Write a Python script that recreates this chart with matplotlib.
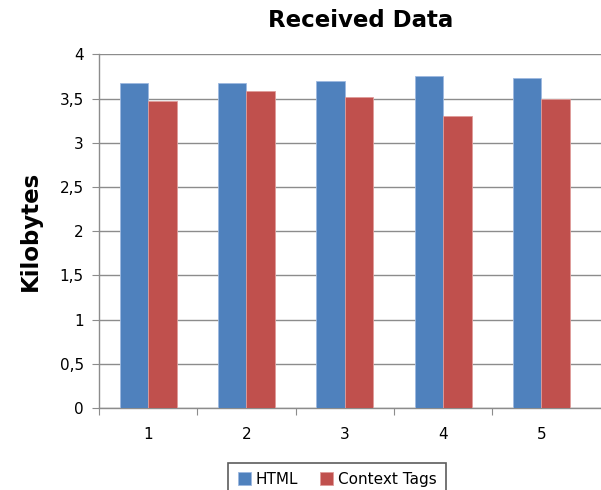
import numpy as np
import matplotlib.pyplot as plt
from matplotlib.ticker import FuncFormatter

# data (kilobytes received per run)
runs = ["1", "2", "3", "4", "5"]
html_kb = [3.68, 3.68, 3.70, 3.75, 3.73]
context_kb = [3.47, 3.59, 3.52, 3.30, 3.50]

blue = "#4F81BD"
red = "#C0504D"
grid_col = "#8C8C8C"

fig = plt.figure(figsize=(6.01, 4.90), dpi=100)
ax = fig.add_axes([0.1647, 0.1673, 0.8353, 0.7219])

x = np.arange(len(runs))
w = 0.29
ax.bar(x - w / 2, html_kb, w, color=blue, edgecolor="#9DB9E0", linewidth=0.6,
       label="HTML", zorder=3)
ax.bar(x + w / 2, context_kb, w, color=red, edgecolor="#E09C9A", linewidth=0.6,
       label="Context Tags", zorder=3)

ax.set_ylim(0, 4)
ax.set_xlim(-0.5, 4.607)
ax.set_yticks(np.arange(0, 4.01, 0.5))
ax.yaxis.set_major_formatter(FuncFormatter(lambda v, _: f"{v:g}".replace(".", ",")))
ax.grid(axis="y", color=grid_col, lw=1, zorder=0)

# category boundaries as ticks, labels centred between them
ax.set_xticks(np.arange(-0.5, 4.0, 1.0))
ax.set_xticklabels([])
ax.set_xticks(x, minor=True)
ax.set_xticklabels(runs, minor=True)
ax.tick_params(axis="x", which="major", length=5, color=grid_col, direction="out")
ax.tick_params(axis="x", which="minor", length=0, pad=14, labelsize=11)
ax.tick_params(axis="y", length=5, color=grid_col, labelsize=11, pad=6)

for s in ["top", "right"]:
    ax.spines[s].set_visible(False)
for s in ["left", "bottom"]:
    ax.spines[s].set_color(grid_col)
    ax.spines[s].set_linewidth(1)

ax.set_ylabel("Kilobytes", fontsize=16.5, fontweight="bold", labelpad=13)
fig.text(0.60, 0.958, "Received Data", ha="center", va="center",
         fontsize=16.5, fontweight="bold")

leg = ax.legend(loc="upper center", bbox_to_anchor=(0.561, 0.0714),
                bbox_transform=fig.transFigure, ncol=2, frameon=True,
                fancybox=False, fontsize=11, handlelength=0.9, handleheight=0.9,
                handletextpad=0.3, columnspacing=1.4, borderpad=0.6)
leg.get_frame().set_edgecolor("#333333")
leg.get_frame().set_linewidth(1.2)

fig.savefig("out.png", dpi=100)
